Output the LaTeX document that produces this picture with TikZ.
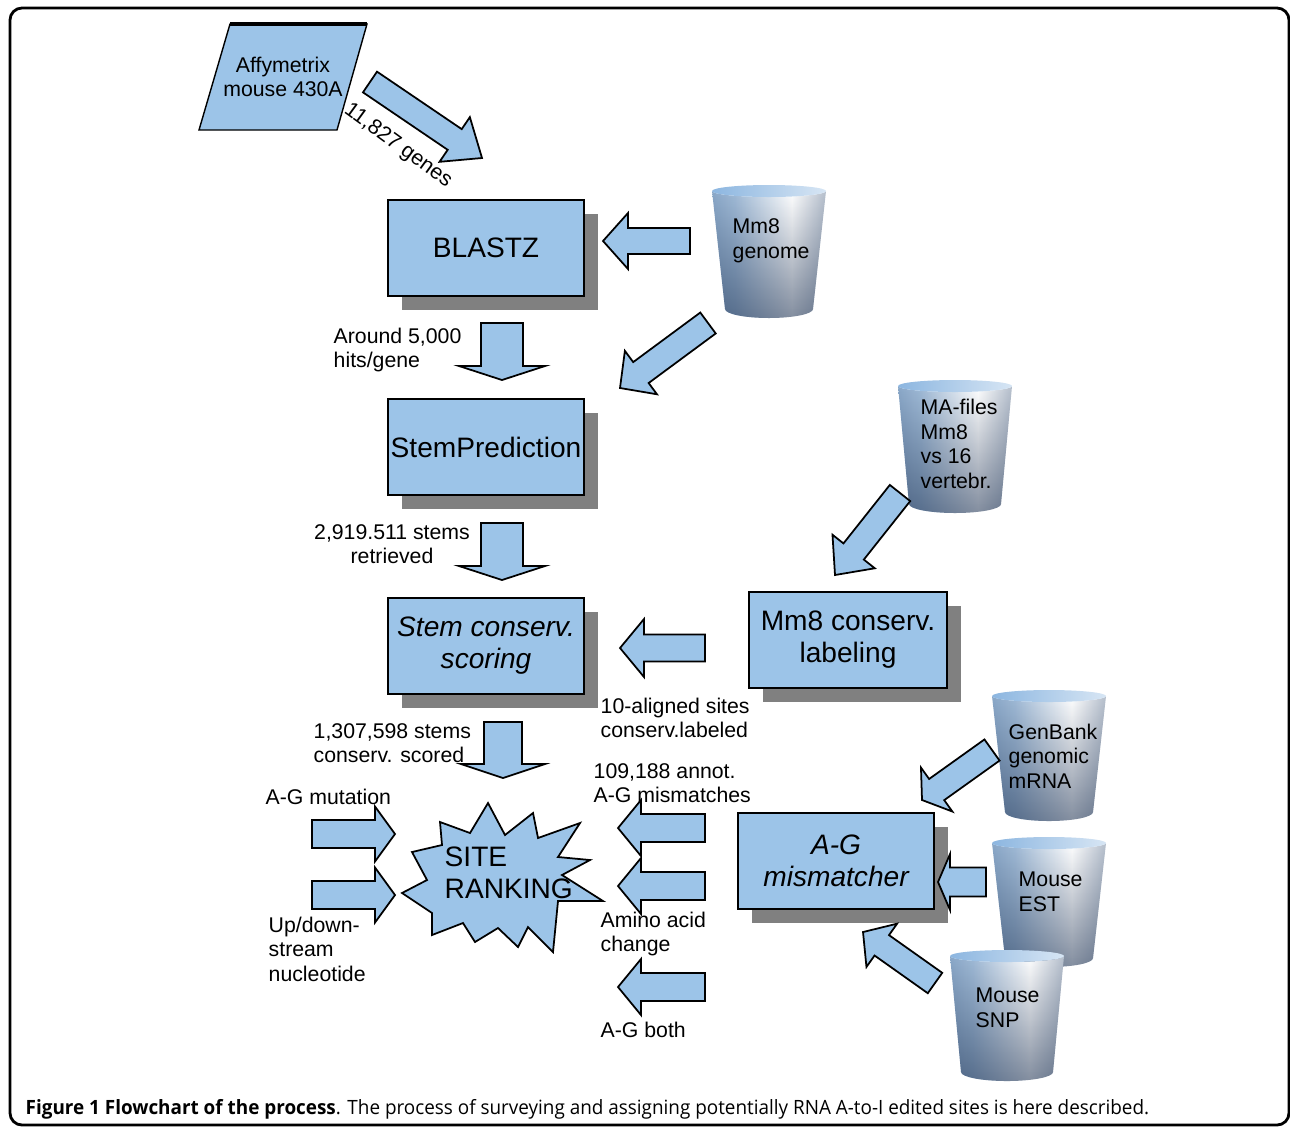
\documentclass[tikz,border=0pt]{standalone}
\usepackage{fontspec}
\setmainfont{Liberation Sans}
\newfontfamily\capfont[FakeStretch=0.96]{Open Sans}
\usepackage{xcolor}
\usepackage{tikz}
\usetikzlibrary{calc,shadows,fadings}

\definecolor{boxblue}{RGB}{156,196,232}
\definecolor{shadowgray}{RGB}{128,128,128}
\definecolor{cylA}{RGB}{84,122,166}
\definecolor{cylB}{RGB}{160,186,214}
\definecolor{cylC}{RGB}{58,84,120}
\definecolor{cyldeep}{RGB}{28,48,80}
\definecolor{cyltop}{RGB}{140,182,224}
\pgfdeclarehorizontalshading{cylshade}{100bp}{color(0bp)=(cylA); color(35bp)=(cylB); color(60bp)=(white); color(100bp)=(cylC)}

\newcommand\bigtxt{\fontsize{8}{9.1}\selectfont}
\newcommand\smalltxt{\fontsize{6.05}{7}\selectfont}

% block arrow: tail, tip, half shaft, half head, head length
\newcommand\barrow[5]{%
  \path ($(#2)!#5!(#1)$) coordinate (hb);
  \draw[blockarrow] ($(#1)!#3!90:(#2)$) -- ($(hb)!#3!90:(#2)$) -- ($(hb)!#4!90:(#2)$) -- (#2)
    -- ($(hb)!#4!-90:(#2)$) -- ($(hb)!#3!-90:(#2)$) -- ($(#1)!#3!-90:(#2)$) -- cycle;
}

% database cylinder: left, top, right, bottom, inset
\newcommand\dbcyl[5]{%
  \shade[shading=cylshade] (#1,#2) -- ({#1+#5},#4)
    arc[start angle=180, end angle=0, x radius={(#3-#1)/2-#5}, y radius=9] -- (#3,#2)
    arc[start angle=0, end angle=180, x radius={(#3-#1)/2}, y radius=6] -- cycle;
  \fill[cyldeep, path fading=north, fill opacity=0.55] (#1,#2) -- ({#1+#5},#4)
    arc[start angle=180, end angle=0, x radius={(#3-#1)/2-#5}, y radius=9] -- (#3,#2)
    arc[start angle=0, end angle=180, x radius={(#3-#1)/2}, y radius=6] -- cycle;
  \shade[left color=cyltop, right color=cyltop!35!white] ({(#1+#3)/2},#2) ellipse[x radius={(#3-#1)/2}, y radius=6];
}

\begin{document}
\begin{tikzpicture}[x=0.1mm, y=-0.1mm,
    box/.style={draw, fill=boxblue, line width=0.6pt, minimum width=19.6mm, minimum height=9.6mm,
      align=center, font=\bigtxt, inner sep=0pt,
      general shadow={fill=shadowgray, shadow xshift=1.4mm, shadow yshift=-1.4mm}},
    blockarrow/.style={draw, fill=boxblue, line width=0.5pt},
    lbl/.style={font=\smalltxt, align=left, inner sep=0pt, anchor=west}
]
    \useasboundingbox (0,0) rectangle (1290,1127);
    \draw[line width=0.8pt, rounded corners=1.2mm] (10,8) rectangle (1289,1125);

    % Affymetrix chip
    \draw[fill=boxblue, line width=0.4pt] (230,24) -- (367,24) -- (337,130) -- (199,130) -- cycle;
    \draw[line width=1.2pt] (230,24) -- (367,24);
    \node[font=\smalltxt, align=center, inner sep=0pt] (affy) at (283,77) {Affymetrix\\mouse 430A};

    % Databases
    \dbcyl{712}{191}{826}{309}{13}
    \node[lbl] (mmgenome) at (732,241) {Mm8\\genome};
    \dbcyl{898}{386}{1012}{504}{11}
    \node[lbl] (mafiles) at (920,444) {MA-files\\Mm8\\vs 16\\vertebr.};
    \dbcyl{992}{696}{1106}{812}{13}
    \node[lbl] (genbank) at (1008,756) {GenBank\\genomic\\mRNA};
    \dbcyl{992}{843}{1106}{958}{13}
    \node[lbl] (est) at (1018,892) {Mouse\\EST};
    \dbcyl{950}{956}{1064}{1072}{11}
    \node[lbl] (snp) at (975,1008) {Mouse\\SNP};

    % Process boxes
    \node[box] (blastz) at (486,248) {BLASTZ};
    \node[box] (stempred) at (486,447) {StemPrediction};
    \node[box, font=\bigtxt\itshape] (stemcons) at (486,646) {Stem conserv.\\scoring};
    \node[box, minimum width=19.8mm] (mmcons) at (848,640) {Mm8 conserv.\\labeling};
    \node[box, font=\bigtxt\itshape] (mismatch) at (836,861) {A-G\\mismatcher};

    % Site ranking
    \draw[fill=boxblue, line width=0.5pt] (488,803) -- (505,835) -- (533,813) -- (538,838) -- (580,823)
      -- (558,857) -- (590,860) -- (562,875) -- (603,901) -- (558,901) -- (553,952) -- (528,927)
      -- (518,947) -- (498,928) -- (475,942) -- (463,923) -- (432,935) -- (432,913) -- (402,893)
      -- (427,880) -- (412,852) -- (442,845) -- (440,822) -- (470,833) -- cycle;
    \node[font=\bigtxt, align=left, inner sep=0pt, anchor=west] (site) at (444,873) {SITE\\RANKING};

    % Labels
    \node[font=\smalltxt, inner sep=0pt, rotate=-36] (genes) at (398,146) {11,827 genes};
    \node[lbl] (hits) at (333,350) {Around 5,000\\hits/gene};
    \node[font=\smalltxt, align=center, inner sep=0pt] (retrieved) at (392,544) {2,919.511 stems\\retrieved};
    \node[lbl] (scored) at (313,743) {1,307,598 stems\\conserv. scored};
    \node[lbl] (aligned) at (600,718) {10-aligned sites\\conserv.labeled};
    \node[lbl] (annot) at (593,783) {109,188 annot.\\A-G mismatches};
    \node[lbl] (amino) at (600,934) {Amino acid\\change};
    \node[lbl] (both) at (600,1030) {A-G both};
    \node[lbl] (mutation) at (265,797) {A-G mutation};
    \node[lbl] (updown) at (268,949) {Up/down-\\stream\\nucleotide};

    % Arrow ends
    \coordinate (affyout) at (370,82);   \coordinate (blastzin) at (482,158);
    \coordinate (genomeout) at (690,241); \coordinate (blastzside) at (603,241);
    \coordinate (blastzout) at (502,323); \coordinate (predin) at (502,380);
    \coordinate (genomeout2) at (708,323); \coordinate (predside) at (620,388);
    \coordinate (maout) at (900,493);    \coordinate (mmconsin) at (835,575);
    \coordinate (predout) at (502,523);  \coordinate (consin) at (502,580);
    \coordinate (mmconsout) at (705,648); \coordinate (consside) at (620,648);
    \coordinate (consout) at (503,722);  \coordinate (sitein) at (503,778);
    \coordinate (mm1) at (705,828); \coordinate (sr1) at (618,828);
    \coordinate (mm2) at (705,886); \coordinate (sr2) at (618,886);
    \coordinate (mm3) at (705,987); \coordinate (sr3) at (618,987);
    \coordinate (mutout) at (312,834); \coordinate (sl1) at (395,834);
    \coordinate (upout) at (312,895);  \coordinate (sl2) at (395,895);
    \coordinate (gbout) at (992,750);  \coordinate (mmtop) at (922,800);
    \coordinate (estout) at (986,882); \coordinate (mmright) at (938,882);
    \coordinate (snpout) at (935,983); \coordinate (mmbottom) at (863,932);

    % Arrows
    \barrow{affyout}{blastzin}{1.25mm}{2.7mm}{3.3mm}
    \barrow{genomeout}{blastzside}{1.3mm}{2.8mm}{2.5mm}
    \barrow{blastzout}{predin}{2.1mm}{4.3mm}{1.4mm}
    \barrow{genomeout2}{predside}{1.3mm}{2.7mm}{2.6mm}
    \barrow{maout}{mmconsin}{1.3mm}{2.7mm}{3mm}
    \barrow{predout}{consin}{2.1mm}{4.3mm}{1.4mm}
    \barrow{mmconsout}{consside}{1.35mm}{2.9mm}{2.4mm}
    \barrow{consout}{sitein}{1.9mm}{4.2mm}{1.4mm}
    \barrow{mm1}{sr1}{1.4mm}{2.8mm}{2.3mm}
    \barrow{mm2}{sr2}{1.4mm}{2.8mm}{2.3mm}
    \barrow{mm3}{sr3}{1.4mm}{2.8mm}{2.3mm}
    \barrow{mutout}{sl1}{1.4mm}{2.75mm}{2mm}
    \barrow{upout}{sl2}{1.4mm}{2.75mm}{2mm}
    \barrow{gbout}{mmtop}{1.3mm}{2.7mm}{1.8mm}
    \barrow{estout}{mmright}{1.45mm}{2.8mm}{1.2mm}
    \barrow{snpout}{mmbottom}{1.25mm}{2.65mm}{2.3mm}

    % Caption
    \node[anchor=west, font=\capfont\fontsize{5.6}{6}\selectfont, inner sep=0pt] (caption) at (25,1109)
      {\textbf{Figure 1 Flowchart of the process}. The process of surveying and assigning potentially RNA A-to-I edited sites is here described.};
\end{tikzpicture}
\end{document}
